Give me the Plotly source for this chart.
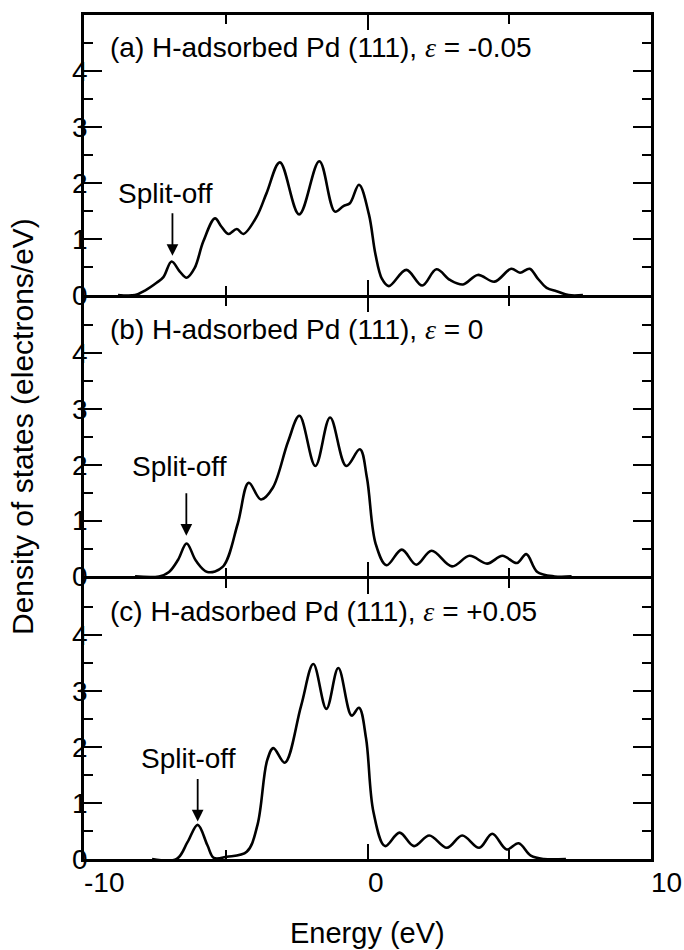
import plotly.graph_objects as go

# ---------------- data ----------------
energy_a = [-8.8, -8.2, -7.85, -7.44, -7.2, -6.91, -6.62, -6.38, -6.1, -5.79, -5.38, -5.15, -4.91, -4.61, -4.38,
            -3.91, -3.56, -3.09, -2.41, -1.70, -1.15, -0.85, -0.62, -0.30, 0.05, 0.28, 0.51, 0.75, 1.37, 1.93,
            2.43, 2.91, 3.37, 3.89, 4.48, 5.07, 5.38, 5.72, 6.0, 6.32, 6.67, 7.1, 7.6]
dos_a = [0, 0, 0.08, 0.22, 0.32, 0.60, 0.42, 0.31, 0.48, 0.96, 1.37, 1.22, 1.09, 1.18, 1.09,
         1.40, 1.82, 2.37, 1.44, 2.39, 1.49, 1.59, 1.64, 1.97, 1.44, 0.73, 0.29, 0.16, 0.45, 0.17,
         0.46, 0.27, 0.19, 0.36, 0.24, 0.47, 0.40, 0.47, 0.30, 0.13, 0.07, 0, 0]

energy_b = [-8.2, -7.35, -7.0, -6.68, -6.38, -6.05, -5.65, -5.11, -4.58, -4.19, -3.76, -3.34, -2.80, -2.40,
            -1.84, -1.32, -0.75, -0.27, -0.02, 0.29, 0.67, 1.21, 1.72, 2.26, 2.98, 3.60, 4.22, 4.76, 5.27,
            5.60, 5.99, 6.6, 7.2]
dos_b = [0, 0, 0.08, 0.30, 0.59, 0.28, 0.08, 0.17, 0.94, 1.68, 1.38, 1.59, 2.42, 2.88,
         1.98, 2.85, 1.98, 2.28, 1.77, 0.58, 0.20, 0.48, 0.21, 0.46, 0.18, 0.37, 0.23, 0.37, 0.24,
         0.40, 0.08, 0, 0]

energy_c = [-7.6, -6.73, -6.35, -5.99, -5.65, -5.42, -4.96, -4.26, -3.88, -3.54, -3.32, -2.92, -2.34, -1.91,
            -1.45, -1.03, -0.56, -0.30, -0.05, 0.21, 0.62, 1.13, 1.64, 2.18, 2.80, 3.34, 3.94, 4.40, 4.91,
            5.33, 5.76, 6.22, 7.0]
dos_c = [0, 0, 0.30, 0.61, 0.25, 0.02, 0.04, 0.13, 0.61, 1.76, 1.98, 1.72, 2.74, 3.48,
         2.68, 3.41, 2.56, 2.70, 2.15, 0.84, 0.23, 0.47, 0.23, 0.42, 0.20, 0.42, 0.20, 0.45, 0.17,
         0.28, 0.06, 0, 0]

panel_tags = ["(a)", "(b)", "(c)"]
strain_vals = ["-0.05", "0", "+0.05"]
splitoff_peak_E = [-6.88, -6.39, -5.99]
splitoff_tip_dos = [0.70, 0.73, 0.67]
splitoff_text_E = [-7.12, -6.62, -6.31]
splitoff_text_dos = [1.82, 1.97, 1.80]

x_tick_vals = [-10, 0, 10]
x_tick_text = ["-10", "0", "10"]
y_tick_vals = [0, 1, 2, 3, 4]
y_tick_text = ["0", "1", "2", "3", "4"]

# ---------------- figure ----------------
FONT = "Liberation Sans, Arial, Helvetica, sans-serif"
FS = 28
PLOT_H = 950 - 13 - 91
LW = 2.5
d = LW / PLOT_H  # so that stacked axis lines coincide
energies = [energy_a, energy_b, energy_c]
doses = [dos_a, dos_b, dos_c]
domains = [[2/3 + d/2, 1.0], [1/3 + d/2, 2/3 - d/2], [0.0, 1/3 - d/2]]

fig = go.Figure()
for i in range(3):
    xa = "x" if i == 0 else f"x{i+1}"
    ya = "y" if i == 0 else f"y{i+1}"
    fig.add_trace(go.Scatter(x=energies[i], y=doses[i], mode="lines",
                             line=dict(color="black", width=2.6, shape="spline", smoothing=1.0),
                             xaxis=xa, yaxis=ya, showlegend=False, hoverinfo="skip"))

layout = dict(
    width=684, height=950,
    margin=dict(l=84, r=33, t=13, b=91),
    paper_bgcolor="white", plot_bgcolor="white",
    font=dict(family=FONT, size=FS, color="black"),
    showlegend=False,
)

for i in range(3):
    xkey = "xaxis" if i == 0 else f"xaxis{i+1}"
    ykey = "yaxis" if i == 0 else f"yaxis{i+1}"
    yname = "y" if i == 0 else f"y{i+1}"
    xname = "x" if i == 0 else f"x{i+1}"
    layout[xkey] = dict(
        range=[-10, 10], domain=[0, 1], anchor=yname,
        tickmode="array", tickvals=x_tick_vals, ticktext=x_tick_text,
        ticks="inside", ticklen=15, tickwidth=2, tickcolor="black",
        minor=dict(dtick=5, tick0=0, ticks="inside", ticklen=9, tickwidth=2, tickcolor="black"),
        showline=True, linewidth=LW, linecolor="black", mirror="allticks",
        showgrid=False, zeroline=False, showticklabels=False,
    )
    layout[ykey] = dict(
        range=[0, 5], domain=domains[i], anchor=xname,
        tickmode="array", tickvals=y_tick_vals, ticktext=y_tick_text,
        ticks="inside", ticklen=18, tickwidth=2, tickcolor="black",
        minor=dict(dtick=0.5, tick0=0, ticks="inside", ticklen=9, tickwidth=2, tickcolor="black"),
        showline=True, linewidth=LW, linecolor="black", mirror="allticks",
        showgrid=False, zeroline=False, tickfont=dict(size=FS),
        ticklabelstandoff=-12,
    )

fig.update_layout(**layout)

annotations = []
for i in range(3):
    xname = "x" if i == 0 else f"x{i+1}"
    yname = "y" if i == 0 else f"y{i+1}"
    label = (f"{panel_tags[i]} H-adsorbed Pd (111), "
             f"<span style=\"font-family:'Liberation Serif', 'DejaVu Serif', serif\"><i>ε</i></span>"
             f" = {strain_vals[i]}")
    annotations.append(dict(x=-9.15, y=4.42, xref=xname, yref=yname, text=label,
                            showarrow=False, xanchor="left", yanchor="middle",
                            font=dict(size=FS, family=FONT)))
    annotations.append(dict(x=splitoff_text_E[i], y=splitoff_text_dos[i], xref=xname, yref=yname,
                            text="Split-off", showarrow=False, xanchor="center", yanchor="middle",
                            font=dict(size=FS, family=FONT)))
    annotations.append(dict(x=splitoff_peak_E[i], y=splitoff_tip_dos[i], xref=xname, yref=yname,
                            text="", showarrow=True, ax=0, ay=-44, axref="pixel", ayref="pixel",
                            arrowhead=2, arrowsize=1.3, arrowwidth=1.8, arrowcolor="black"))

# x tick labels (left-aligned at their tick, as in the reference)
for v, t in zip(x_tick_vals, x_tick_text):
    annotations.append(dict(x=v, y=0, xref="x3", yref="paper", text=t, showarrow=False,
                            xanchor="left", yanchor="middle", yshift=-23, xshift=-2,
                            font=dict(size=FS, family=FONT)))

annotations.append(dict(x=0.5, y=0, xref="paper", yref="paper", yshift=-74,
                        text="Energy (eV)", showarrow=False, xanchor="center", yanchor="middle",
                        font=dict(size=29, family=FONT)))
annotations.append(dict(x=0, y=0.5, xref="paper", yref="paper", xshift=-62, yshift=10,
                        text="Density of states (electrons/eV)", textangle=-90,
                        showarrow=False, xanchor="center", yanchor="middle",
                        font=dict(size=30, family=FONT)))
fig.update_layout(annotations=annotations)

fig.write_html("out.html")
